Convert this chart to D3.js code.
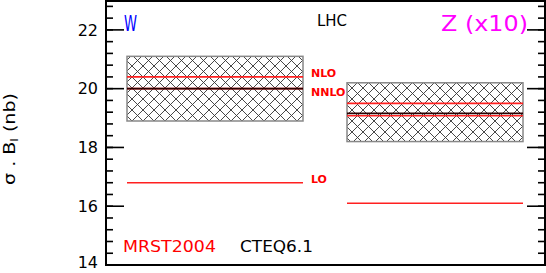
<!DOCTYPE html>
<html>
<head>
<meta charset="utf-8">
<script src="https://cdn.jsdelivr.net/npm/d3@7"></script>
<style>
  body { margin: 0; background: #fff; }
  svg { display: block; font-family: "DejaVu Sans", sans-serif; }
</style>
</head>
<body>
<svg width="546" height="273"></svg>
<script>
var processes = ["W", "Z (x10)"];
var procColors = ["#0000ff", "#ff00ff"];
var bandHi = [21.1, 20.2];
var bandLo = [18.9, 18.2];
var nlo = [20.4, 19.5];
var nnloMrst = [20.0, 19.08];
var nnloCteq = [20.0, 19.16];
var lo = [16.8, 16.1];
var yTicks = [14, 16, 18, 20, 22];
var orderLabels = ["NLO", "NNLO", "LO"];

var svg = d3.select("svg");

var x = d3.scaleBand().domain(processes).range([127, 523]).paddingInner(0.2).paddingOuter(0);
var y = d3.scaleLinear().domain([14, 23]).range([265, 0.5]);

// hatch pattern for the uncertainty bands
var pat = svg.append("defs").append("pattern")
  .attr("id", "hatch")
  .attr("patternUnits", "userSpaceOnUse")
  .attr("width", 11).attr("height", 11);
pat.append("path")
  .attr("d", "M0,0L11,11M11,0L0,11")
  .attr("stroke", "#333")
  .attr("stroke-width", 0.9)
  .attr("fill", "none");

// bands
processes.forEach(function (p, i) {
  svg.append("rect")
    .attr("x", x(p))
    .attr("y", y(bandHi[i]))
    .attr("width", x.bandwidth())
    .attr("height", y(bandLo[i]) - y(bandHi[i]))
    .attr("fill", "url(#hatch)")
    .attr("stroke", "#888")
    .attr("stroke-width", 1.5);
});

function hline (vals, color, width) {
  processes.forEach(function (p, i) {
    svg.append("line")
      .attr("x1", x(p)).attr("x2", x(p) + x.bandwidth())
      .attr("y1", y(vals[i])).attr("y2", y(vals[i]))
      .attr("stroke", color)
      .attr("stroke-width", width);
  });
}
hline(nlo, "#ff2020", 1.6);
hline(nnloMrst, "#ff2020", 1.6);
hline(nnloCteq, "#2a0000", 1.6);
hline(lo, "#ff2020", 1.6);

// order labels next to W
var labX = x("W") + x.bandwidth() + 8;
var labOff = [-3.5, 3, -3.5];
[nlo[0], nnloCteq[0], lo[0]].forEach(function (v, i) {
  svg.append("text")
    .text(orderLabels[i])
    .attr("x", labX)
    .attr("y", y(v) + labOff[i])
    .attr("dy", "0.35em")
    .attr("fill", "#ff0000")
    .attr("font-size", 11)
    .attr("font-weight", "bold");
});

// frame
svg.append("rect")
  .attr("x", 106).attr("y", 1)
  .attr("width", 439).attr("height", 264)
  .attr("fill", "none")
  .attr("stroke", "#000")
  .attr("stroke-width", 2);

// ticks
var minor = d3.range(14, 23.01, 0.4);
minor.forEach(function (v) {
  svg.append("line").attr("x1", 106).attr("x2", 113).attr("y1", y(v)).attr("y2", y(v))
    .attr("stroke", "#000").attr("stroke-width", 1.6);
  svg.append("line").attr("x1", 538).attr("x2", 545).attr("y1", y(v)).attr("y2", y(v))
    .attr("stroke", "#000").attr("stroke-width", 1.6);
});
yTicks.forEach(function (v) {
  svg.append("line").attr("x1", 106).attr("x2", 124).attr("y1", y(v)).attr("y2", y(v))
    .attr("stroke", "#000").attr("stroke-width", 1.6);
  svg.append("line").attr("x1", 527).attr("x2", 545).attr("y1", y(v)).attr("y2", y(v))
    .attr("stroke", "#000").attr("stroke-width", 1.6);
  svg.append("text")
    .text(v)
    .attr("x", 98)
    .attr("y", Math.min(y(v), 262))
    .attr("dy", "0.36em")
    .attr("text-anchor", "end")
    .attr("font-size", 16)
    .attr("fill", "#000");
});

// y label
var yl = svg.append("text")
  .attr("transform", "translate(15,139) rotate(-90)")
  .attr("text-anchor", "middle")
  .attr("font-size", 15)
  .attr("fill", "#000")
  .attr("textLength", 92).attr("lengthAdjust", "spacingAndGlyphs");
yl.append("tspan").text("\u03c3 . B");
yl.append("tspan").text("l").attr("font-size", 10).attr("dy", 3);
yl.append("tspan").text(" (nb)").attr("dy", -3);

// process titles
svg.append("text").text(processes[0])
  .attr("x", 124).attr("y", 31)
  .attr("fill", procColors[0]).attr("font-size", 22)
  .attr("textLength", 13).attr("lengthAdjust", "spacingAndGlyphs");
svg.append("text").text(processes[1])
  .attr("x", 441).attr("y", 31)
  .attr("fill", procColors[1]).attr("font-size", 22)
  .attr("textLength", 87).attr("lengthAdjust", "spacingAndGlyphs");
svg.append("text").text("LHC")
  .attr("x", 317).attr("y", 26)
  .attr("fill", "#000").attr("font-size", 16)
  .attr("textLength", 30).attr("lengthAdjust", "spacingAndGlyphs");

// pdf set labels
svg.append("text").text("MRST2004")
  .attr("x", 123).attr("y", 252)
  .attr("fill", "#ff0000").attr("font-size", 15)
  .attr("textLength", 93).attr("lengthAdjust", "spacingAndGlyphs");
svg.append("text").text("CTEQ6.1")
  .attr("x", 240).attr("y", 252)
  .attr("fill", "#000").attr("font-size", 15)
  .attr("textLength", 73).attr("lengthAdjust", "spacingAndGlyphs");
</script>
</body>
</html>
